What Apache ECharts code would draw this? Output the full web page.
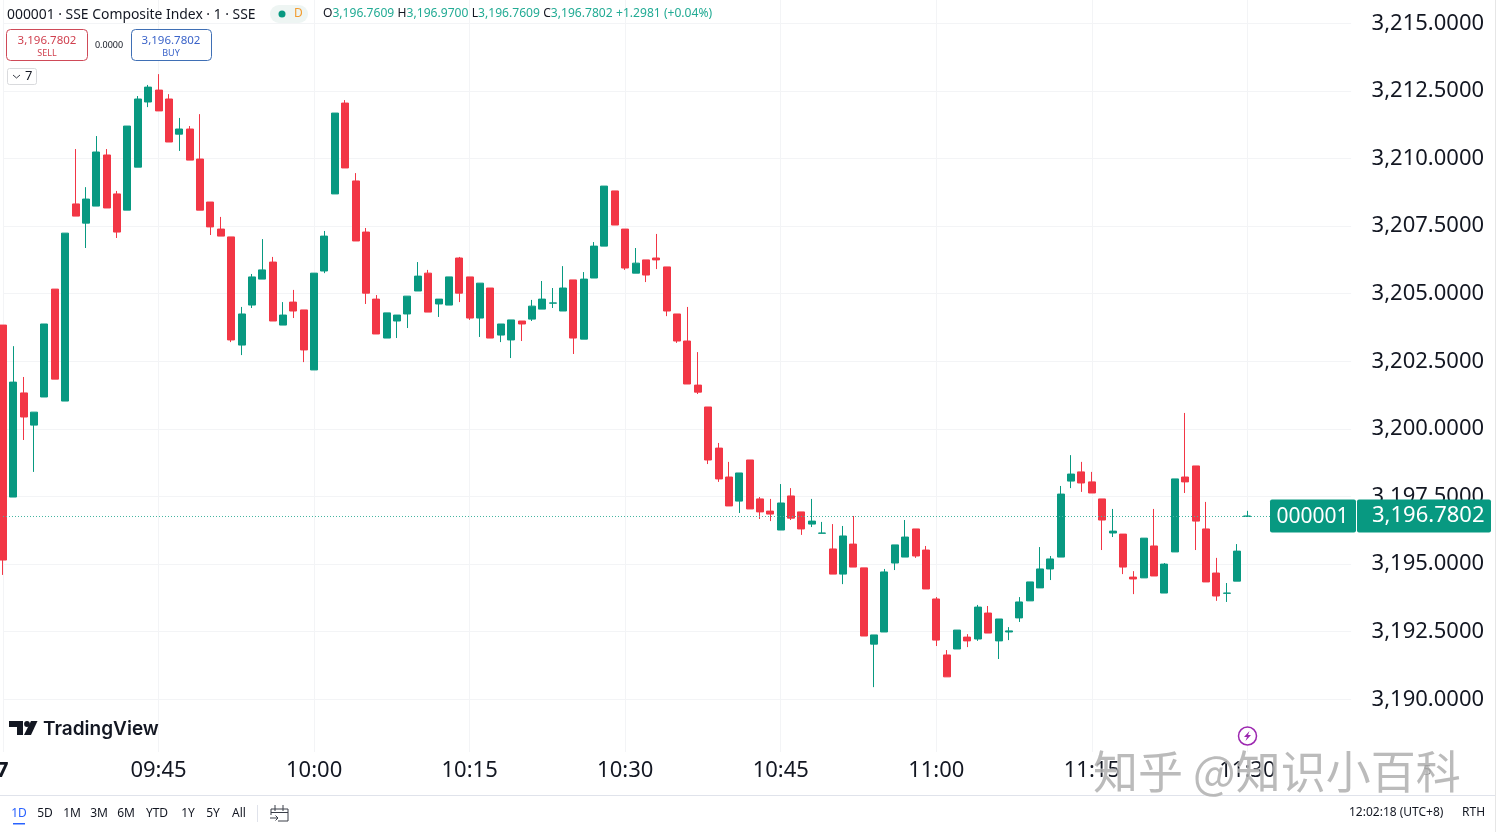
<!DOCTYPE html>
<html><head><meta charset="utf-8">
<style>html,body{margin:0;padding:0;background:#fff}#c{width:1496px;height:832px}</style>
<script src="https://cdn.jsdelivr.net/npm/echarts@6/dist/echarts.min.js"></script>
</head><body><div id="c"></div>
<script>
const opens=[3203.84,3197.48,3201.33,3200.14,3201.18,3205.17,3201.03,3208.32,3207.61,3208.24,3210.13,3208.69,3208.09,3209.68,3212.09,3212.53,3212.20,3210.90,3211.09,3209.98,3208.39,3207.39,3207.10,3203.10,3204.58,3205.54,3206.17,3203.84,3204.69,3204.40,3202.18,3205.84,3208.69,3212.05,3209.17,3207.28,3204.80,3203.36,3203.99,3204.25,3205.10,3205.76,3204.62,3204.58,3206.32,3205.62,3204.10,3205.21,3203.47,3203.29,3203.99,3204.06,3204.43,3204.65,3204.36,3205.51,3203.32,3205.58,3206.76,3208.80,3207.39,3205.76,3206.25,3206.32,3205.99,3204.25,3203.25,3201.62,3200.81,3199.29,3198.22,3197.33,3198.85,3197.41,3196.96,3196.26,3197.52,3196.93,3196.48,3196.14,3195.56,3194.63,3195.74,3194.86,3192.04,3192.49,3195.04,3195.26,3196.30,3195.52,3193.71,3191.64,3191.86,3192.30,3192.23,3193.19,3192.16,3192.49,3193.01,3193.64,3194.12,3194.82,3195.26,3198.07,3198.41,3198.04,3197.41,3196.15,3196.11,3194.52,3194.49,3195.67,3193.93,3195.45,3198.22,3198.63,3196.30,3194.67,3193.92,3194.37,3196.7609];
const closes=[3195.15,3201.73,3200.44,3200.62,3203.88,3201.84,3207.24,3207.87,3208.50,3210.24,3208.17,3207.28,3211.20,3212.20,3212.64,3211.76,3210.61,3211.09,3209.94,3208.09,3207.47,3207.13,3203.29,3204.25,3205.62,3205.88,3203.99,3204.21,3204.36,3202.92,3205.76,3207.13,3211.68,3209.65,3206.95,3205.02,3203.51,3204.29,3204.21,3204.91,3205.65,3204.32,3204.80,3205.62,3205.02,3204.10,3205.39,3203.36,3203.88,3204.03,3203.88,3204.54,3204.80,3204.66,3205.21,3203.36,3205.54,3206.76,3208.98,3207.54,3205.95,3206.13,3205.69,3206.25,3204.36,3203.25,3201.66,3201.36,3198.85,3198.15,3197.15,3198.37,3197.04,3196.93,3196.85,3197.26,3196.70,3196.30,3196.59,3196.15,3194.63,3196.04,3194.89,3192.34,3192.38,3194.71,3195.71,3196.00,3195.30,3194.08,3192.19,3190.83,3192.56,3192.16,3193.41,3192.45,3192.97,3192.53,3193.60,3194.34,3194.82,3195.19,3197.59,3198.33,3198.00,3197.63,3196.63,3196.22,3194.89,3194.45,3195.96,3194.56,3195.00,3198.15,3198.04,3196.59,3194.34,3193.82,3193.93,3195.48,3196.7802];
const lows=[3194.60,3197.48,3199.59,3198.41,3201.18,3201.84,3201.03,3207.87,3206.69,3208.24,3208.17,3207.06,3208.09,3209.68,3211.90,3211.76,3210.61,3210.28,3209.94,3208.09,3207.17,3207.13,3203.21,3202.73,3204.47,3205.54,3203.99,3203.84,3204.10,3202.47,3202.18,3205.76,3208.69,3209.65,3206.95,3204.62,3203.51,3203.36,3203.36,3203.73,3205.10,3204.32,3204.14,3204.58,3204.69,3204.03,3203.40,3203.36,3203.21,3202.62,3203.25,3203.99,3204.43,3204.47,3204.36,3202.77,3203.32,3205.58,3206.76,3207.54,3205.88,3205.76,3205.43,3205.91,3204.17,3203.18,3201.66,3201.29,3198.70,3198.04,3197.15,3196.89,3197.04,3196.67,3196.59,3196.26,3196.63,3196.08,3196.37,3196.14,3194.63,3194.26,3194.89,3192.34,3190.45,3192.49,3194.78,3195.26,3195.23,3194.08,3191.97,3190.83,3191.86,3191.93,3192.16,3192.45,3191.49,3192.19,3192.86,3193.64,3194.12,3194.41,3195.26,3197.81,3197.67,3197.63,3195.52,3196.00,3194.63,3193.89,3194.49,3194.56,3193.93,3195.45,3197.63,3195.52,3194.34,3193.64,3193.60,3194.37,3196.7609];
const highs=[3203.84,3203.06,3201.92,3200.62,3203.88,3205.17,3207.24,3210.35,3208.94,3210.83,3210.35,3208.80,3211.20,3212.31,3212.72,3213.12,3212.38,3211.50,3211.20,3211.64,3208.39,3207.84,3207.10,3204.51,3205.73,3207.02,3206.36,3204.69,3205.14,3204.40,3205.76,3207.32,3211.68,3212.16,3209.46,3207.43,3204.95,3204.29,3204.21,3204.91,3206.17,3205.88,3204.80,3205.62,3206.36,3205.62,3205.39,3205.21,3203.88,3204.03,3203.99,3204.77,3205.47,3205.21,3206.02,3205.51,3205.80,3206.91,3208.98,3208.80,3207.39,3206.69,3206.25,3207.21,3205.99,3204.25,3204.51,3202.84,3200.81,3199.48,3198.78,3198.37,3198.85,3197.48,3197.41,3197.96,3197.81,3196.93,3197.41,3196.56,3196.48,3196.41,3196.78,3194.86,3192.38,3194.82,3195.71,3196.63,3196.30,3195.67,3193.78,3191.82,3192.56,3192.41,3193.49,3193.45,3192.97,3192.67,3193.78,3194.34,3195.63,3195.30,3197.89,3199.03,3198.78,3198.41,3197.41,3197.04,3196.11,3194.74,3195.96,3197.04,3195.04,3198.15,3200.59,3198.63,3197.30,3195.23,3194.30,3195.74,3196.97];
const sessionBars=131, dayLabel='27', lastClose=3196.7802;
const priceTicks={min:3187.5,max:3217.5,step:2.5};
const symbolName='000001';
const times=[];
for(let i=0;i<sessionBars;i++){const m=i<=120?9*60+30+i:13*60+i-120;times.push(String(Math.floor(m/60)).padStart(2,'0')+':'+String(m%60).padStart(2,'0'));}
const candles=opens.map((o,i)=>[o,closes[i],lows[i],highs[i]]);
const UP='#089981',DOWN='#F23645',TXT='#131722',F='"Noto Sans"',GRID='#f3f4f6';
const fmtP=v=>{const s=v.toFixed(4);return s.slice(0,1)+','+s.slice(1);};
const onTick=i=>i%15===0&&i<=120;
const chart=echarts.init(document.getElementById('c'),null,{renderer:'canvas'});
chart.setOption({
 animation:false,backgroundColor:'#fff',
 grid:{left:3,top:-44.3,width:1348.1,height:811.2,containLabel:false,outerBoundsMode:'none'},
 xAxis:[
  {type:'category',data:times,boundaryGap:false,z:0,axisLine:{show:false},axisTick:{show:false},axisLabel:{show:false},
   splitLine:{show:true,interval:i=>onTick(i),lineStyle:{color:GRID,width:1}}},
  {type:'category',data:times,boundaryGap:false,position:'bottom',z:10,axisLine:{show:false},axisTick:{show:false},splitLine:{show:false},
   axisLabel:{show:true,interval:i=>onTick(i),margin:4,verticalAlign:'middle',fontFamily:F,fontSize:22,color:TXT,hideOverlap:false,showMinLabel:true,
    formatter:v=>v==='09:30'?'{b|'+dayLabel+'}':v,rich:{b:{fontFamily:F,fontSize:22,fontWeight:'bold',color:TXT,padding:[0,14,0,0]}}}}
 ],
 yAxis:{type:'value',position:'right',min:priceTicks.min,max:priceTicks.max,interval:priceTicks.step,z:0,
  axisLine:{show:false},axisTick:{show:false},
  axisLabel:{margin:20.5,fontFamily:F,fontSize:22,color:TXT,showMinLabel:false,showMaxLabel:false,formatter:fmtP},
  splitLine:{show:true,showMinLine:false,showMaxLine:false,lineStyle:{color:GRID,width:1}}},
 series:[{type:'candlestick',xAxisIndex:0,data:candles,barWidth:7.5,clip:false,z:3,
  itemStyle:{color:UP,color0:DOWN,borderColor:UP,borderColor0:DOWN,borderWidth:1},
  markLine:{silent:true,symbol:'none',animation:false,label:{show:false},data:[{yAxis:lastClose}],
   lineStyle:{type:[1,2],color:'#45b5a1',width:1,opacity:1}}}]
});
const yTag=chart.convertToPixel({yAxisIndex:0},lastClose);
const T=(x,y,text,o={})=>({type:'text',z:o.z||30,style:Object.assign({x,y,text,fontFamily:F,fontSize:14,fill:TXT,textVerticalAlign:'middle',verticalAlign:'middle'},o.s||{})});
const R=(x,y,w,h,fill,o={})=>({type:'rect',z:o.z||20,shape:{x,y,width:w,height:h,r:o.r||0},style:{fill,stroke:o.stroke||null,lineWidth:o.lw||1}});
const L=(pts)=>({type:'polyline',z:30,shape:{points:pts},style:{stroke:'#3a3e48',fill:null,lineWidth:1}});
const G='#22ab94';
const navLabels=[['1D',19],['5D',45],['1M',72],['3M',99],['6M',126],['YTD',157],['1Y',188],['5Y',213],['All',239]];
const graphics=[
 R(0,752,1496,80,'#fff',{z:5}),
 // header
 T(7,15,'000001 · SSE Composite Index · 1 · SSE',{s:{fontSize:13.9}}),
 R(270,5,38,18,'#eef5f3',{r:9}),
 {type:'circle',z:30,shape:{cx:282,cy:14,r:3.5},style:{fill:UP}},
 T(294,14,'D',{s:{fontSize:12,fill:'#f39c2f'}}),
 {type:'text',z:30,style:{x:323,y:14,verticalAlign:'middle',
  text:'{k|O}{v|3,196.7609} {k|H}{v|3,196.9700} {k|L}{v|3,196.7609} {k|C}{v|3,196.7802} {v|+1.2981 (+0.04%)}',
  rich:{k:{fontFamily:F,fontSize:12.1,fill:TXT,color:TXT},v:{fontFamily:F,fontSize:12.1,fill:G,color:G}}}},
 // sell / buy
 R(6.5,29.5,81,31,'#fff',{stroke:'#cf4a58',r:4}),
 T(47,41,'3,196.7802',{s:{fontSize:11.5,fill:'#d0404f',textAlign:'center',align:'center'}}),
 T(47,53,'SELL',{s:{fontSize:9,fill:'#d0404f',textAlign:'center',align:'center'}}),
 T(109,45,'0.0000',{s:{fontSize:9,textAlign:'center',align:'center'}}),
 R(131.5,29.5,80,31,'#fff',{stroke:'#3f6fb5',r:4}),
 T(171,41,'3,196.7802',{s:{fontSize:11.5,fill:'#3a63c9',textAlign:'center',align:'center'}}),
 T(171,53,'BUY',{s:{fontSize:9,fill:'#3a63c9',textAlign:'center',align:'center'}}),
 R(7.5,68.5,29,16,'#fff',{stroke:'#d9dadd',r:2}),
 L([[13,75],[16.5,78],[20,75]]),
 T(25,76,'7',{s:{fontSize:13}}),
 // TradingView logo
 {type:'polygon',z:30,shape:{points:[[9,721],[23,721],[23,735],[17,735],[17,727],[9,727]]},style:{fill:TXT}},
 {type:'circle',z:30,shape:{cx:27,cy:724,r:2.9},style:{fill:TXT}},
 {type:'polygon',z:30,shape:{points:[[31,721],[37.5,721],[31,735],[24,735]]},style:{fill:TXT}},
 T(43,729,'TradingView',{s:{fontFamily:'Inter',fontWeight:600,fontSize:19}}),
 // flash icon
 {type:'circle',z:30,shape:{cx:1247.5,cy:736,r:9},style:{fill:'#fff',stroke:'#9c27b0',lineWidth:1.5}},
 {type:'polygon',z:31,shape:{points:[[1249.5,731],[1244,737],[1247,737],[1245.5,741],[1251,735],[1248,735]]},style:{fill:'#9c27b0'}},
 // price tag
 R(1270,yTag-16.5,86,33,UP,{r:2,z:25}),R(1357,yTag-16.5,134,33,UP,{r:2,z:25}),
 T(1312.5,yTag+1,symbolName,{z:31,s:{fontSize:21,fill:'#fff',textAlign:'center',align:'center'}}),
 T(1372,yTag,fmtP(lastClose),{z:31,s:{fontSize:22,fill:'#fff'}}),
 // bottom bar
 R(0,795,1496,1,'#e0e3eb',{z:21}),
 R(13,823,12,1.5,'#2962ff',{z:21}),
 R(257,805,1,17,'#e0e3eb',{z:21}),
 L([[271,815],[271,809],[288,809],[288,821],[278,821]]),
 L([[275,805],[275,811]]),L([[283,805],[283,811]]),
 L([[271,812.5],[288,812.5]]),
 L([[270,818],[278,818]]),L([[275.5,815.5],[278,818],[275.5,820.5]]),
 T(1349,813,'12:02:18 (UTC+8)',{s:{fontSize:12}}),
 T(1462,813,'RTH',{s:{fontSize:12}}),
 R(1495,0,1,832,'#e6e6e6',{z:21}),
 T(1423,771,'5',{z:35,s:{fontSize:15,fill:'#555'}}),
 // watermark
 {type:'text',z:40,style:{x:1093,y:772,verticalAlign:'middle',text:'知乎 @知识小百科',fontFamily:'"Noto Sans CJK SC"',fontSize:45,fill:'rgba(175,175,175,0.85)',stroke:'rgba(255,255,255,0.55)',lineWidth:1}}
].concat(navLabels.map((n,i)=>T(n[1],813.5,n[0],{s:{fontSize:12,fill:i===0?'#2962ff':TXT,textAlign:'center',align:'center'}})));
chart.setOption({graphic:graphics});
</script></body></html>
